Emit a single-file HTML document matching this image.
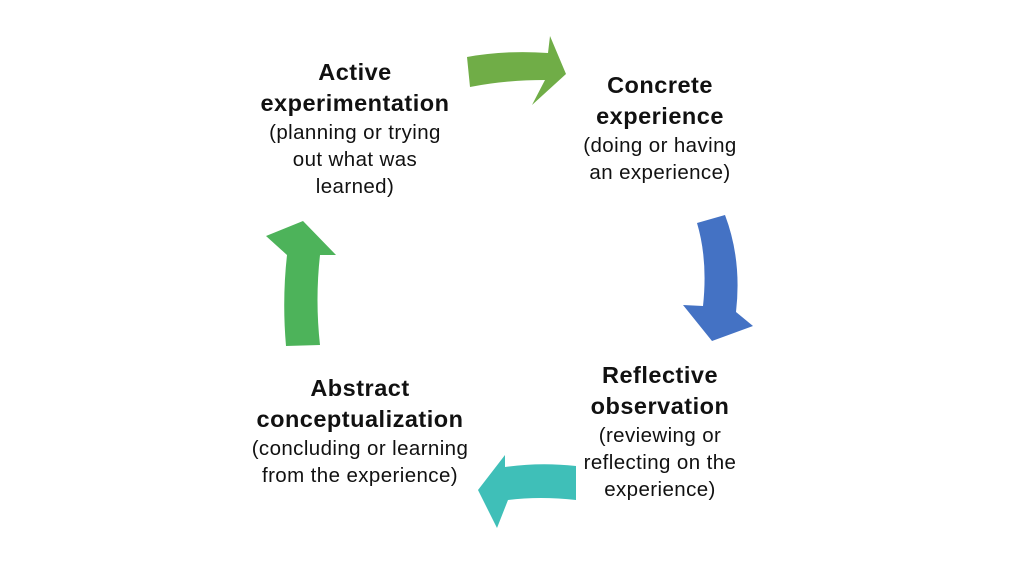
<!DOCTYPE html>
<html><head><style>
body{margin:0;width:1019px;height:573px;background:#fff;position:relative;overflow:hidden;font-family:"Liberation Sans",sans-serif;color:#111}
.t{position:absolute;text-align:center;line-height:27px;font-size:20.5px;letter-spacing:0.4px}
.t b{font-size:23.5px;display:block;line-height:31px;letter-spacing:0.5px}
</style></head><body>
<svg width="1019" height="573" style="position:absolute;left:0;top:0">
<path d="M467,57 Q505,50 548,53 L550,36 L566,74 L532,105 L545,80 Q505,80 470,87 Z" fill="#70ad47"/>
<path d="M697,223 L725,215 Q742,260 736,312 L753,326 L712,341 L683,305 L703,306 Q708,260 697,223 Z" fill="#4472c4"/>
<path d="M576,466 L576,500 Q540,496 508,500 L497,528 L478,490 L505,455 L505,467 Q540,462 576,466 Z" fill="#3fbfb8"/>
<path d="M286,346 Q282,300 287,255 L266,236 L303,221 L336,255 L320,255 Q315,300 320,345 Z" fill="#4db35a"/>
</svg>
<div class="t" style="left:220px;top:57px;width:270px"><b>Active</b><b>experimentation</b>(planning or trying<br>out what was<br>learned)</div>
<div class="t" style="left:525px;top:70px;width:270px"><b>Concrete</b><b>experience</b>(doing or having<br>an experience)</div>
<div class="t" style="left:525px;top:360px;width:270px"><b>Reflective</b><b>observation</b>(reviewing or<br>reflecting on the<br>experience)</div>
<div class="t" style="left:210px;top:373px;width:300px"><b>Abstract</b><b>conceptualization</b>(concluding or learning<br>from the experience)</div>
</body></html>
